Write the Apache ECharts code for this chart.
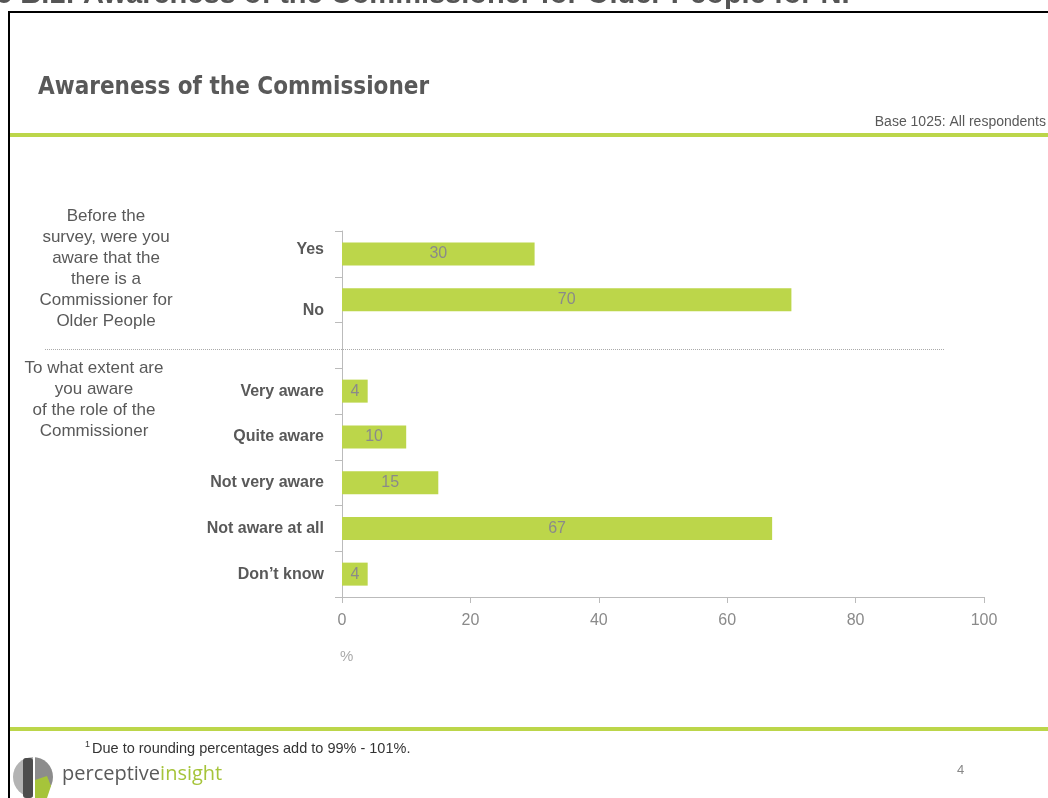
<!DOCTYPE html>
<html>
<head>
<meta charset="utf-8">
<script src="https://cdn.jsdelivr.net/npm/echarts@6/dist/echarts.min.js"></script>
<style>
  html, body { margin: 0; padding: 0; background: #fff; }
  #chart { width: 1048px; height: 798px; }
</style>
</head>
<body>
<div id="chart"></div>
<script>
// Survey answers, in the order they are listed down the chart ('' is a spacer row)
const categories = ['Yes', 'No', '', 'Very aware', 'Quite aware', 'Not very aware', 'Not aware at all', 'Don\u2019t know'];
const values = [30, 70, null, 4, 10, 15, 67, 4];
// Percent axis
const xMin = 0, xMax = 100, xStep = 20;
// Question texts shown beside each group of answers
const question1 = ['Before the', 'survey, were you', 'aware that the', 'there is a', 'Commissioner for', 'Older People'];
const question2 = ['To what extent are', 'you aware', 'of the role of the', 'Commissioner'];

const GREEN = '#bcd64a';
const TEXT = '#595959';
const FONT = 'Liberation Sans, Arial, sans-serif';

const chart = echarts.init(document.getElementById('chart'), null, { renderer: 'canvas' });

// centred multi-line text block, cx = centre line, top = top of first line
function questionBlock(lines, cx, top) {
  return {
    type: 'text', x: cx, y: top,
    style: {
      text: lines.join('\n'),
      align: 'center', verticalAlign: 'top',
      font: '17px ' + FONT, lineHeight: 21, fill: TEXT
    }
  };
}

const option = {
  animation: false,
  grid: { left: 342, right: 64, top: 231, bottom: 201, containLabel: false },
  xAxis: {
    type: 'value', min: xMin, max: xMax, interval: xStep,
    axisLine: { show: true, lineStyle: { color: '#bbbbbb', width: 1 } },
    axisTick: { show: true, length: 6, lineStyle: { color: '#bbbbbb' } },
    splitLine: { show: false },
    axisLabel: { color: '#8a8a8a', fontSize: 16, fontFamily: FONT, margin: 16 }
  },
  yAxis: {
    type: 'category', data: categories, inverse: true,
    axisLine: { show: true, lineStyle: { color: '#bbbbbb', width: 1 } },
    axisTick: { show: true, length: 7, lineStyle: { color: '#bbbbbb' } },
    axisLabel: {
      margin: 18, color: TEXT, fontSize: 16, fontWeight: 'bold', fontFamily: FONT,
      formatter: v => v === 'No' ? '{low|No}' : (v === 'Yes' ? '{high|Yes}' : v),
      rich: {
        low: { fontSize: 16, fontWeight: 'bold', color: TEXT, fontFamily: FONT, padding: [22, 0, 0, 0] },
        high: { fontSize: 16, fontWeight: 'bold', color: TEXT, fontFamily: FONT, padding: [0, 0, 8, 0] }
      }
    }
  },
  series: [{
    type: 'bar', data: values, barWidth: 23,
    itemStyle: { color: GREEN },
    label: {
      show: true, position: 'inside', color: '#8a8a8a', fontSize: 16, fontFamily: FONT,
      formatter: p => p.value == null ? '' : String(p.value)
    }
  }],
  graphic: [
    // slide heading, clipped at the top edge
    { type: 'text', left: -4, top: -20,
      style: { text: '5 B.1: Awareness of the Commissioner for Older People for NI',
        font: 'bold 29px ' + FONT, fill: '#555555' } },
    // frame
    { type: 'line', shape: { x1: 8, y1: 12, x2: 1048, y2: 12 }, style: { stroke: '#000', lineWidth: 2 } },
    { type: 'line', shape: { x1: 9, y1: 11, x2: 9, y2: 798 }, style: { stroke: '#000', lineWidth: 2 } },
    // chart title
    { type: 'text', left: 38, top: 76,
      style: { text: 'Awareness of the Commissioner', font: 'bold 24px "DejaVu Sans Condensed", sans-serif', fill: '#595959' } },
    { type: 'text', right: 2, top: 115,
      style: { text: 'Base 1025: All respondents', font: '14px ' + FONT, fill: TEXT } },
    { type: 'rect', shape: { x: 10, y: 133, width: 1038, height: 4 }, style: { fill: GREEN } },
    // question texts
    questionBlock(question1, 106, 206),
    questionBlock(question2, 94, 358),
    // separator between the two questions
    { type: 'line', shape: { x1: 45, y1: 349.5, x2: 945, y2: 349.5 },
      style: { stroke: '#aaaaaa', lineWidth: 1, lineDash: [1, 1] } },
    // axis unit
    { type: 'text', left: 340, top: 649, style: { text: '%', font: '15px ' + FONT, fill: '#aaaaaa' } },
    // footer
    { type: 'rect', shape: { x: 10, y: 727, width: 1038, height: 4 }, style: { fill: GREEN } },
    { type: 'text', left: 85, top: 740, style: { text: '1', font: '9px ' + FONT, fill: '#333' } },
    { type: 'text', left: 92, top: 741, style: { text: 'Due to rounding percentages add to 99% - 101%.', font: '14.5px ' + FONT, fill: '#333' } },
    { type: 'text', left: 957, top: 764, style: { text: '4', font: '13px ' + FONT, fill: '#888' } },
    // logo mark
    { type: 'group', x: 13, y: 756, children: [
      { type: 'sector', shape: { cx: 20, cy: 21, r: 20, startAngle: Math.PI / 2, endAngle: Math.PI * 1.5 }, style: { fill: '#b3b3b3' } },
      { type: 'sector', shape: { cx: 20, cy: 21, r: 20, startAngle: -Math.PI / 2, endAngle: Math.PI / 2 }, style: { fill: '#8c8c8c' } },
      { type: 'rect', shape: { x: 10, y: 2, width: 10, height: 40, r: 3 }, style: { fill: '#4d4d4d' } },
      { type: 'polygon', shape: { points: [[22, 24], [34, 20], [38, 30], [34, 42], [22, 42]] }, style: { fill: '#a6c43a' } },
      { type: 'rect', shape: { x: 20, y: 0, width: 2, height: 42 }, style: { fill: '#ffffff' } }
    ] },
    { type: 'text', left: 62, top: 764,
      style: { text: '{a|perceptive}{b|insight}',
        rich: { a: { fontSize: 20, fontFamily: '"Open Sans", sans-serif', fill: '#5a5a5a' },
                b: { fontSize: 20, fontFamily: '"Open Sans", sans-serif', fill: '#a6c43a' } } } }
  ]
};
chart.setOption(option);
</script>
</body>
</html>
